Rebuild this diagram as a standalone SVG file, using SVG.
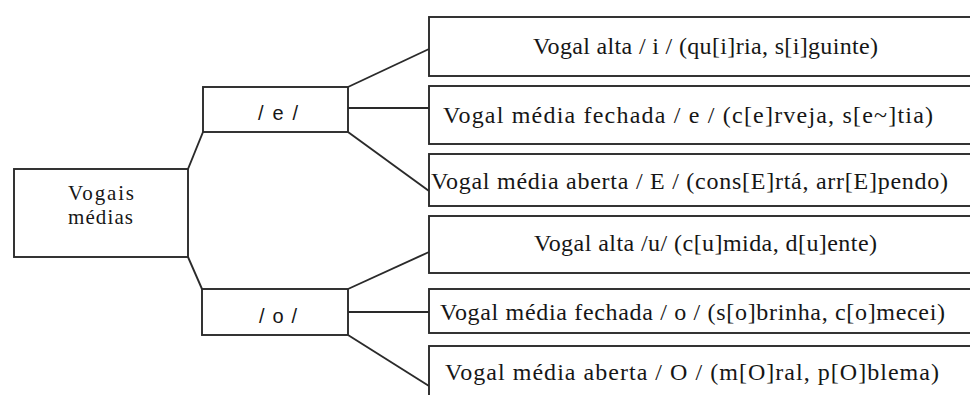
<svg xmlns="http://www.w3.org/2000/svg" width="970" height="395" viewBox="0 0 970 395">
<style>
rect{fill:#fff;stroke:#2a2a2a;stroke-width:1.9}
.c line{stroke:#2a2a2a;stroke-width:1.9}
text{font-family:'Liberation Serif','Times New Roman',serif;fill:#161616;font-size:24px}
text.s{font-family:'Liberation Sans',Arial,sans-serif;font-size:20px;text-anchor:start}
</style>
<rect x="0" y="0" width="970" height="395" style="stroke:none"/>
<g class="c">
<line x1="188" y1="169" x2="203" y2="132"/>
<line x1="188" y1="257" x2="202" y2="289"/>
<line x1="348" y1="87" x2="429" y2="49"/>
<line x1="348" y1="108" x2="429" y2="108"/>
<line x1="348" y1="132" x2="429" y2="191"/>
<line x1="348" y1="289" x2="429" y2="252"/>
<line x1="348" y1="312" x2="429" y2="312"/>
<line x1="348" y1="335" x2="429" y2="386"/>
</g>
<g id="n-root"><rect x="14" y="169" width="174" height="88"/>
<text x="68" y="200" textLength="66" style="font-size:21px">Vogais</text>
<text x="68" y="224" textLength="65" style="font-size:21px">médias</text></g>
<g id="n-e"><rect x="203" y="87" width="145" height="45"/><text class="s" x="258" y="120" textLength="40">/ e /</text></g>
<g id="n-o"><rect x="202" y="289" width="146" height="46"/><text class="s" x="259" y="323" textLength="38">/ o /</text></g>
<g id="n-e1"><rect x="429" y="17" width="600" height="59"/><text x="533" y="54" textLength="345">Vogal alta / i / (qu[i]ria, s[i]guinte)</text></g>
<g id="n-e2"><rect x="429" y="86" width="600" height="58"/><text x="443" y="123" textLength="490">Vogal média fechada / e / (c[e]rveja, s[e~]tia)</text></g>
<g id="n-e3"><rect x="429" y="154" width="600" height="52"/><text x="431" y="189" textLength="517">Vogal média aberta / E / (cons[E]rtá, arr[E]pendo)</text></g>
<g id="n-o1"><rect x="429" y="216" width="600" height="57"/><text x="534" y="251" textLength="343">Vogal alta /u/ (c[u]mida, d[u]ente)</text></g>
<g id="n-o2"><rect x="429" y="289" width="600" height="44"/><text x="440" y="320" textLength="505">Vogal média fechada / o / (s[o]brinha, c[o]mecei)</text></g>
<g id="n-o3"><rect x="429" y="346" width="600" height="80"/><text x="445" y="380" textLength="494">Vogal média aberta / O / (m[O]ral, p[O]blema)</text></g>
</svg>
